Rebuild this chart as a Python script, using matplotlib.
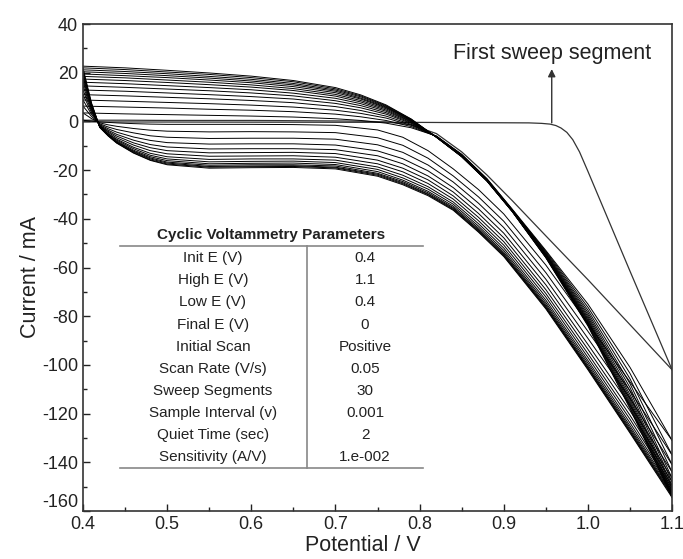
import matplotlib
matplotlib.use("Agg")
import matplotlib.pyplot as plt
from matplotlib.ticker import MultipleLocator

plt.rcParams['font.family'] = ['Liberation Sans', 'DejaVu Sans']
plt.rcParams['axes.unicode_minus'] = False

# first sweep segment (0.4 -> 1.1 V)
first_e = [0.40, 0.60, 0.80, 0.93, 0.945, 0.955, 0.962, 0.968, 0.975, 0.982, 0.99, 1.00, 1.05, 1.10]
first_i = [-0.2, -0.3, -0.4, -0.6, -0.8, -1.1, -1.7, -2.7, -4.5, -7.5, -12.5, -20.5, -61.5, -102.0]

# potential grids of the later segments
fwd_e = [0.40, 0.41, 0.42, 0.43, 0.44, 0.46, 0.48, 0.50, 0.55, 0.60, 0.65, 0.70,
         0.75, 0.78, 0.81, 0.84, 0.87, 0.90, 0.95, 1.00, 1.05, 1.10]
rev_e = [0.40, 0.45, 0.50, 0.55, 0.60, 0.65, 0.70, 0.73, 0.76, 0.79, 0.82,
         0.85, 0.88, 0.91, 0.95, 1.00, 1.05, 1.10]

# return of the first cycle (1.1 -> 0.4 V)
return_i = [0.5, 0.5, 0.4, 0.4, 0.4, 0.3, 0.2, 0.1, -0.2, -1.4, -5.0,
            -12.5, -22.0, -32.5, -47.0, -65.0, -83.5, -102.0]

# forward sweeps, cycles 2..15 (mA)
fwd_i = [
    [0.5, 0.1, -0.2, -0.4, -0.6, -0.9, -1.1, -1.2, -1.2, -1.2, -1.3, -1.6, -3.5, -6.5, -12.0, -19.5, -28.0, -38.0, -59.0, -83.0, -107.0, -131.0],
    [3.5, 1.2, -0.6, -1.4, -2.0, -2.9, -3.6, -4.0, -4.3, -4.2, -4.3, -4.6, -6.7, -9.8, -15.1, -22.4, -31.0, -41.0, -62.1, -86.2, -110.6, -137.0],
    [6.3, 2.1, -1.0, -2.3, -3.3, -4.7, -5.9, -6.5, -7.0, -6.9, -6.9, -7.3, -9.6, -12.7, -17.9, -24.9, -33.6, -43.6, -64.8, -89.1, -113.7, -141.0],
    [8.8, 3.0, -1.3, -3.0, -4.4, -6.4, -7.8, -8.7, -9.3, -9.2, -9.2, -9.7, -12.1, -15.3, -20.3, -27.2, -35.9, -45.9, -67.1, -91.6, -116.5, -144.0],
    [11.0, 3.8, -1.6, -3.6, -5.3, -7.7, -9.5, -10.5, -11.3, -11.2, -11.2, -11.6, -14.1, -17.4, -22.4, -29.0, -37.8, -47.8, -69.1, -93.6, -118.8, -146.5],
    [12.9, 4.4, -1.8, -4.1, -6.0, -8.8, -10.8, -12.0, -12.9, -12.8, -12.7, -13.2, -15.9, -19.2, -24.0, -30.6, -39.4, -49.4, -70.7, -95.4, -120.7, -148.0],
    [14.6, 5.0, -1.9, -4.5, -6.7, -9.7, -12.0, -13.3, -14.3, -14.2, -14.1, -14.7, -17.4, -20.7, -25.5, -31.9, -40.8, -50.8, -72.1, -96.9, -122.3, -149.5],
    [16.1, 5.6, -2.1, -5.0, -7.3, -10.6, -13.1, -14.5, -15.6, -15.4, -15.4, -15.9, -18.7, -22.1, -26.8, -33.1, -42.0, -52.0, -73.4, -98.2, -123.8, -150.5],
    [17.4, 6.0, -2.2, -5.2, -7.7, -11.2, -13.9, -15.4, -16.6, -16.4, -16.3, -16.9, -19.7, -23.2, -27.8, -34.0, -43.0, -53.0, -74.4, -99.2, -125.0, -151.5],
    [18.5, 6.4, -2.3, -5.5, -8.1, -11.8, -14.5, -16.1, -17.4, -17.2, -17.1, -17.7, -20.6, -24.1, -28.7, -34.8, -43.8, -53.8, -75.2, -100.1, -125.9, -152.3],
    [19.5, 6.8, -2.4, -5.7, -8.4, -12.2, -15.0, -16.7, -18.0, -17.8, -17.8, -18.3, -21.3, -24.7, -29.3, -35.4, -44.4, -54.4, -75.8, -100.8, -126.6, -153.0],
    [20.4, 7.1, -2.4, -5.8, -8.6, -12.5, -15.4, -17.1, -18.5, -18.3, -18.2, -18.8, -21.7, -25.2, -29.8, -35.8, -44.8, -54.8, -76.3, -101.2, -127.2, -153.5],
    [21.2, 7.4, -2.4, -5.9, -8.8, -12.8, -15.8, -17.5, -18.8, -18.6, -18.5, -19.1, -22.1, -25.6, -30.1, -36.2, -45.2, -55.2, -76.6, -101.6, -127.6, -154.0],
    [22.0, 7.7, -2.5, -6.0, -8.9, -13.0, -16.0, -17.8, -19.2, -19.0, -18.9, -19.5, -22.5, -26.0, -30.5, -36.5, -45.5, -55.5, -77.0, -102.0, -128.0, -154.5],
]

# reverse sweeps, cycles 2..15 (mA)
rev_i = [
    [3.5, 3.1, 2.8, 2.5, 2.2, 1.8, 1.1, 0.4, -0.7, -2.6, -6.0, -13.5, -23.5, -36.0, -53.0, -75.0, -101.0, -131.0],
    [6.3, 5.9, 5.5, 5.0, 4.6, 4.0, 3.0, 1.9, 0.4, -2.1, -6.1, -13.6, -23.6, -36.2, -53.4, -76.3, -103.5, -137.0],
    [8.8, 8.3, 7.8, 7.3, 6.7, 5.9, 4.6, 3.3, 1.4, -1.6, -6.1, -13.8, -23.8, -36.3, -53.8, -77.5, -105.7, -141.0],
    [11.0, 10.5, 9.9, 9.3, 8.6, 7.7, 6.1, 4.5, 2.2, -1.2, -6.2, -13.9, -23.9, -36.4, -54.2, -78.5, -107.7, -144.0],
    [12.9, 12.4, 11.7, 11.0, 10.2, 9.2, 7.4, 5.6, 3.0, -0.8, -6.3, -14.0, -24.0, -36.5, -54.5, -79.4, -109.3, -146.5],
    [14.6, 14.0, 13.3, 12.6, 11.7, 10.5, 8.5, 6.5, 3.6, -0.5, -6.3, -14.1, -24.1, -36.6, -54.7, -80.2, -110.8, -148.0],
    [16.1, 15.5, 14.7, 13.9, 13.0, 11.6, 9.5, 7.3, 4.2, -0.2, -6.3, -14.2, -24.2, -36.7, -55.0, -80.9, -112.2, -149.5],
    [17.4, 16.8, 16.0, 15.1, 14.1, 12.7, 10.4, 8.0, 4.7, 0.0, -6.4, -14.2, -24.2, -36.7, -55.2, -81.5, -113.3, -150.5],
    [18.5, 17.9, 17.0, 16.1, 15.0, 13.5, 11.1, 8.6, 5.2, 0.2, -6.4, -14.3, -24.3, -36.8, -55.3, -82.0, -114.3, -151.5],
    [19.5, 18.8, 18.0, 17.0, 15.9, 14.3, 11.8, 9.2, 5.6, 0.4, -6.4, -14.3, -24.3, -36.8, -55.5, -82.5, -115.2, -152.3],
    [20.4, 19.7, 18.8, 17.8, 16.6, 15.0, 12.4, 9.6, 5.9, 0.6, -6.4, -14.4, -24.4, -36.9, -55.6, -82.9, -116.0, -153.0],
    [21.2, 20.5, 19.6, 18.5, 17.3, 15.6, 12.9, 10.1, 6.2, 0.7, -6.5, -14.4, -24.4, -36.9, -55.8, -83.3, -116.7, -153.5],
    [22.0, 21.3, 20.3, 19.3, 18.0, 16.3, 13.4, 10.5, 6.5, 0.9, -6.5, -14.5, -24.5, -37.0, -55.9, -83.7, -117.4, -154.0],
    [22.7, 22.0, 21.0, 19.9, 18.6, 16.8, 13.9, 10.9, 6.8, 1.0, -6.5, -14.5, -24.5, -37.0, -56.0, -84.0, -118.0, -154.5],
]

param_names = ["Init E (V)", "High E (V)", "Low E (V)", "Final E (V)", "Initial Scan",
               "Scan Rate (V/s)", "Sweep Segments", "Sample Interval (v)",
               "Quiet Time (sec)", "Sensitivity (A/V)"]
param_values = ["0.4", "1.1", "0.4", "0", "Positive", "0.05", "30", "0.001", "2", "1.e-002"]

fig = plt.figure(figsize=(6.83, 5.59), dpi=100)
ax = fig.add_axes([0.1215, 0.0859, 0.8625, 0.8711])

line_kw = dict(color='black', lw=0.7, solid_joinstyle='round')
ax.plot(first_e, first_i, color='#333333', lw=0.9)
ax.plot(rev_e, return_i, color='#333333', lw=0.9)
for row in fwd_i:
    ax.plot(fwd_e, row, **line_kw)
for row in rev_i:
    ax.plot(rev_e, row, **line_kw)

ax.annotate('', xy=(0.957, 21.5), xytext=(0.957, -0.6),
            arrowprops=dict(arrowstyle='-|>', color='#333333', lw=1.0,
                            mutation_scale=11, shrinkA=0, shrinkB=0))
ax.text(0.957, 28, 'First sweep segment', ha='center', va='center',
        fontsize=15.5, color='#222222')

ax.set_xlim(0.4, 1.1)
ax.set_ylim(-160, 40)
ax.xaxis.set_major_locator(MultipleLocator(0.1))
ax.xaxis.set_minor_locator(MultipleLocator(0.05))
ax.yaxis.set_major_locator(MultipleLocator(20))
ax.yaxis.set_minor_locator(MultipleLocator(10))
ax.tick_params(which='both', direction='in', top=False, right=False,
               labelsize=13, width=1.0, colors='#222222')
ax.tick_params(which='major', length=5)
ax.tick_params(which='minor', length=3)
for s in ax.spines.values():
    s.set_linewidth(1.2)
    s.set_color('#333333')

ax.set_xlabel('Potential / V', fontsize=15.5, color='#222222')
ax.xaxis.set_label_coords(0.475, -0.05)
ax.set_ylabel('Current / mA', fontsize=15.5, color='#222222')
ax.yaxis.set_label_coords(-0.072, 0.48)

# parameter table
tab_left, tab_right, tab_mid = 0.0628, 0.577, 0.380
tab_top, tab_bottom = 0.544, 0.0877
row_step = 0.04538
ax.text((tab_left + tab_right) / 2, 0.567, 'Cyclic Voltammetry Parameters',
        transform=ax.transAxes, ha='center', va='center', fontsize=11,
        fontweight='bold', color='#222222')
ax.plot([tab_left, tab_right], [tab_top, tab_top], transform=ax.transAxes,
        color='#888888', lw=1.2)
ax.plot([tab_left, tab_right], [tab_bottom, tab_bottom], transform=ax.transAxes,
        color='#888888', lw=1.2)
ax.plot([tab_mid, tab_mid], [tab_bottom, tab_top], transform=ax.transAxes,
        color='#888888', lw=1.2)
for k, (name, val) in enumerate(zip(param_names, param_values)):
    y = 0.519 - k * row_step
    ax.text(0.2207, y, name, transform=ax.transAxes, ha='center', va='center',
            fontsize=11, color='#222222')
    ax.text(0.4788, y, val, transform=ax.transAxes, ha='center', va='center',
            fontsize=11, color='#222222')

# lift the lowest y label clear of the x labels, as in the original
fig.canvas.draw()
for tick in ax.yaxis.get_major_ticks():
    if abs(tick.get_loc() + 160) < 1e-6:
        tick.label1.set_verticalalignment('bottom')

fig.savefig('out.png', dpi=100)
